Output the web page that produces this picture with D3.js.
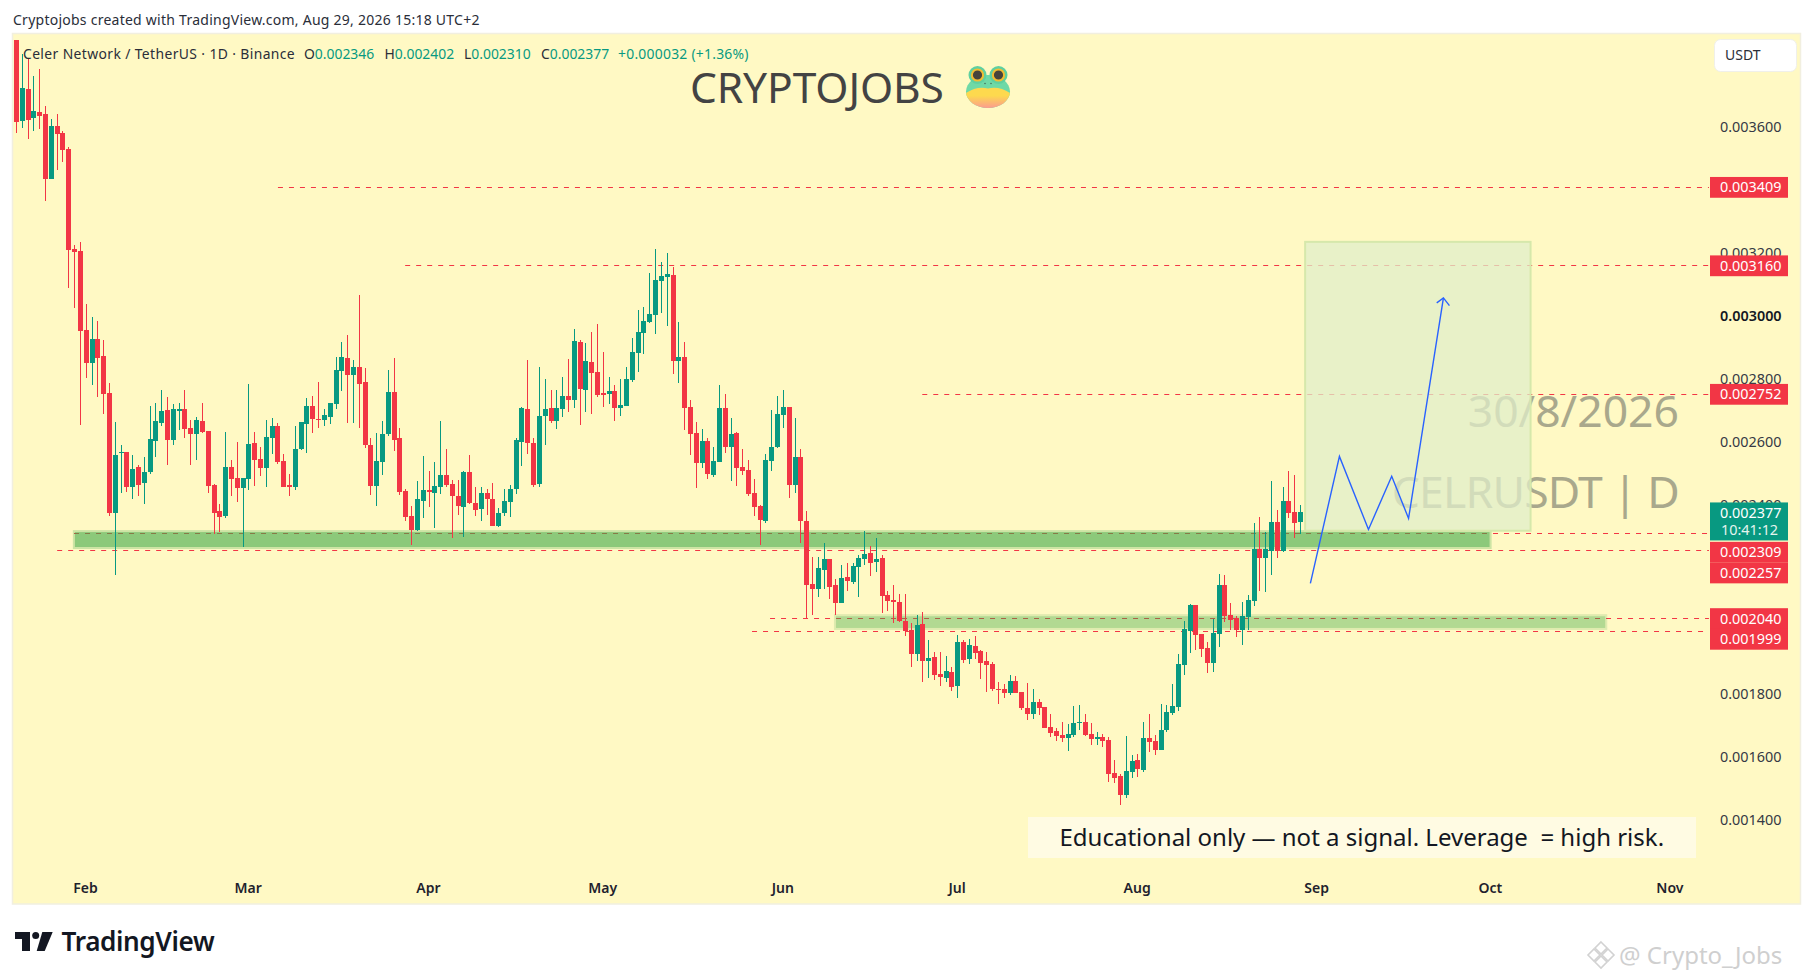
<!DOCTYPE html>
<html>
<head>
<meta charset="utf-8">
<title>CELRUSDT</title>
<script src="https://cdn.jsdelivr.net/npm/d3@7"></script>
<style>
  html, body { margin: 0; background: #fff; }
  svg { display: block; }
  text { font-family: "Noto Sans", sans-serif; white-space: pre; }
</style>
</head>
<body>
<div id="chart"></div>
<script>
// prices are in millionths of a USDT, days count from the first candle (Jan 20)
const opens = [
  3877,3621,3720,3630,3647,3641,3434,3604,3581,3531,
  3213,3207,2956,2852,2928,2874,2756,2376,2566,2569,
  2458,2521,2470,2505,2604,2661,2702,2607,2699,2705,
  2645,2626,2667,2635,2464,2381,2366,2521,2486,2454,
  2483,2597,2547,2518,2613,2651,2540,2464,2458,2578,
  2658,2715,2674,2670,2680,2721,2826,2867,2813,2839,
  2791,2591,2461,2537,2626,2759,2613,2445,2366,2321,
  2413,2448,2439,2458,2496,2467,2429,2394,2505,2407,
  2388,2439,2420,2334,2375,2410,2451,2600,2705,2597,
  2467,2683,2708,2667,2705,2747,2734,2918,2766,2855,
  2823,2756,2753,2762,2709,2715,2797,2883,2947,2982,
  3004,3112,3124,3131,2858,2870,2712,2629,2534,2604,
  2496,2537,2709,2585,2629,2521,2512,2439,2397,2350,
  2540,2585,2686,2712,2464,2553,2350,2150,2134,2194,
  2229,2147,2089,2172,2156,2204,2229,2248,2220,2232,
  2115,2099,2093,2032,2004,1927,2023,1905,1918,1864,
  1851,1870,1826,1966,1912,1953,1937,1905,1896,1818,
  1816,1804,1842,1807,1756,1737,1775,1759,1696,1683,
  1670,1661,1670,1708,1711,1673,1661,1664,1654,1550,
  1540,1480,1553,1591,1559,1661,1651,1622,1686,1740,
  1759,1892,2000,2083,1991,1946,1899,1991,2146,2051,
  2042,2004,2045,2096,2261,2232,2254,2346,2254,2413,2378,2346
]
const highs = [
  3877,3831,3819,3763,3785,3666,3625,3642,3588,3537,
  3225,3236,3039,2996,2984,2923,2787,2664,2591,2569,
  2559,2528,2553,2715,2724,2766,2743,2721,2724,2766,
  2670,2680,2724,2635,2467,2404,2632,2543,2600,2486,
  2785,2632,2585,2670,2677,2661,2562,2499,2651,2664,
  2740,2747,2791,2705,2724,2870,2918,2940,2861,3067,
  2835,2613,2629,2667,2829,2867,2645,2451,2397,2477,
  2556,2509,2537,2667,2578,2480,2480,2509,2559,2458,
  2458,2451,2470,2391,2451,2464,2613,2712,2861,2613,
  2839,2801,2766,2766,2807,2864,2959,2924,2915,2950,
  2975,2886,2807,2782,2801,2839,2931,3020,3029,3137,
  3213,3172,3201,3156,2982,2918,2734,2664,2642,2613,
  2585,2782,2753,2677,2632,2578,2543,2483,2401,2562,
  2702,2747,2766,2712,2677,2578,2381,2235,2235,2280,
  2229,2166,2210,2216,2216,2242,2318,2270,2296,2242,
  2128,2147,2118,2118,2026,2051,2061,1972,1934,1934,
  1921,1886,1988,1972,1975,1985,1940,1934,1902,1839,
  1832,1861,1858,1807,1835,1816,1785,1759,1737,1693,
  1712,1705,1762,1766,1737,1708,1680,1673,1664,1591,
  1546,1667,1607,1610,1711,1737,1670,1769,1765,1832,
  1927,2032,2086,2083,1991,1965,2038,2181,2178,2089,
  2048,2092,2115,2343,2362,2315,2477,2384,2458,2508,2496,2402
]
const lows = [
  3581,3599,3564,3589,3594,3367,3434,3464,3491,3091,
  3027,2655,2804,2781,2743,2689,2366,2178,2439,2442,
  2420,2429,2404,2499,2553,2651,2528,2591,2639,2613,
  2528,2543,2629,2439,2308,2315,2359,2429,2410,2267,
  2448,2461,2493,2458,2562,2531,2458,2429,2448,2575,
  2566,2629,2645,2651,2658,2705,2763,2661,2661,2645,
  2581,2432,2397,2496,2620,2572,2432,2350,2274,2318,
  2359,2394,2327,2435,2458,2296,2369,2299,2404,2366,
  2350,2369,2334,2331,2366,2362,2435,2524,2562,2458,
  2458,2591,2661,2642,2680,2696,2708,2654,2696,2689,
  2745,2712,2721,2667,2683,2715,2791,2823,2880,2978,
  2943,3010,2969,2817,2788,2639,2559,2455,2518,2483,
  2489,2537,2566,2477,2461,2496,2429,2366,2274,2343,
  2509,2582,2645,2423,2439,2280,2039,2051,2108,2134,
  2102,2051,2089,2128,2150,2108,2210,2175,2188,2058,
  2064,2026,2029,1985,1886,1905,1839,1851,1845,1826,
  1839,1810,1788,1899,1896,1912,1848,1807,1810,1769,
  1788,1797,1804,1750,1718,1721,1734,1693,1664,1651,
  1648,1620,1664,1686,1667,1638,1638,1632,1521,1518,
  1448,1470,1534,1537,1553,1616,1607,1622,1680,1734,
  1746,1861,1930,1940,1918,1867,1870,1950,2029,2004,
  1981,1956,2004,2080,2127,2124,2178,2232,2251,2359,2296,2310
]
const closes = [
  3618,3724,3624,3651,3637,3434,3604,3580,3529,3211,
  3205,2953,2852,2928,2868,2754,2376,2559,2569,2458,
  2515,2464,2505,2610,2667,2699,2607,2705,2705,2642,
  2626,2670,2632,2461,2375,2362,2521,2483,2454,2486,
  2594,2543,2518,2616,2651,2537,2458,2461,2578,2664,
  2715,2674,2670,2686,2724,2829,2870,2813,2839,2785,
  2591,2461,2540,2626,2759,2607,2442,2362,2321,2420,
  2448,2442,2461,2496,2464,2429,2397,2505,2407,2385,
  2439,2420,2334,2375,2413,2451,2607,2708,2597,2464,
  2683,2705,2667,2708,2747,2734,2921,2769,2858,2820,
  2750,2754,2762,2709,2718,2801,2886,2950,2985,3007,
  3115,3128,3134,2858,2870,2709,2626,2534,2604,2499,
  2540,2709,2585,2626,2518,2508,2435,2394,2353,2543,
  2585,2690,2712,2464,2553,2350,2147,2134,2200,2229,
  2140,2089,2169,2159,2207,2232,2245,2216,2229,2112,
  2096,2097,2032,2000,1927,2020,1905,1915,1861,1854,
  1873,1823,1966,1908,1956,1931,1899,1893,1816,1816,
  1804,1842,1804,1756,1737,1775,1756,1693,1677,1667,
  1661,1673,1708,1712,1670,1657,1664,1651,1546,1534,
  1480,1556,1588,1562,1661,1648,1622,1686,1743,1762,
  1896,2007,2083,1988,1943,1899,1994,2146,2048,2035,
  2004,2048,2099,2261,2232,2261,2346,2254,2413,2375,2343,2377
]

const monthDays = [11.8, 39.8, 70.8, 100.8, 131.8, 161.8, 192.8, 223.7, 253.6, 284.5]
const monthLabels = ['Feb', 'Mar', 'Apr', 'May', 'Jun', 'Jul', 'Aug', 'Sep', 'Oct', 'Nov']
const priceTicks = [3600, 3400, 3200, 3000, 2800, 2600, 2400, 2200, 2000, 1800, 1600, 1400]

const levelPrices = [3409, 3160, 2752, 2309, 2257, 2040, 1999]
const levelStartDays = [45, 66.9, 155.9, 9.9, 7, 129.7, 126.6]
const levelEndDay = 291.3

const zoneStartDays = [9.7, 140.7]
const zoneEndDays = [253.9, 273.8]
const zoneTops = [2321, 2054]
const zoneBottoms = [2261, 2004]
const zoneAlphas = [0.6, 0.4]
const zoneEdgeAlphas = [0.26, 0.17]

const targetDays = [221.8, 260.6]
const targetPrices = [3236, 2319]

const pathDays = [222.7, 227.7, 232.7, 236.7, 239.6, 245.6]
const pathPrices = [2152, 2555, 2323, 2492, 2358, 3058]

const lastPrice = 2377
const countdown = '10:41:12'

const RED = '#f23645'
const GREEN = '#089981'
const BG = '#fff9c4'
const priceText = v => (v / 1e6).toFixed(6)

const svg = d3.select('#chart').append('svg')
    .attr('width', 1814)
    .attr('height', 980)

const x = d3.scaleLinear().domain([0, 221]).range([16.5, 1300.5])
const y = d3.scaleLinear().domain([3600, 1400]).range([127.2, 820.2])

// chart panel
svg.append('rect')
    .attr('x', 12.5).attr('y', 33.5)
    .attr('width', 1788).attr('height', 870.5)
    .attr('fill', BG)
    .attr('stroke', '#f1efe0')
    .attr('stroke-width', 1.5)

// watermarks sit under the drawings
const watermark = svg.append('g')
    .attr('text-anchor', 'end')
    .attr('font-size', 44.5)
    .attr('fill', '#a9a88c')
watermark.append('text').attr('x', 1679).attr('y', 426.5).text('30/8/2026')
watermark.append('text').attr('x', 1679).attr('y', 508).attr('letter-spacing', -0.8).text('CELRUSDT | D')

// horizontal levels
svg.append('g').selectAll('line')
    .data(levelPrices)
    .join('line')
    .attr('x1', (d, i) => x(levelStartDays[i]))
    .attr('x2', x(levelEndDay))
    .attr('y1', d => Math.floor(y(d)) + 0.5)
    .attr('y2', d => Math.floor(y(d)) + 0.5)
    .attr('stroke', RED)
    .attr('stroke-dasharray', '5,6')

// support zones
zoneTops.forEach((top, i) => {
  const zx = x(zoneStartDays[i]), zw = x(zoneEndDays[i]) - zx
  const zy = y(top), zh = y(zoneBottoms[i]) - zy
  svg.append('rect')
      .attr('x', zx + 2).attr('y', zy + 2)
      .attr('width', zw - 4).attr('height', zh - 4)
      .attr('fill', 'rgb(63,169,73)')
      .attr('fill-opacity', zoneAlphas[i])
  svg.append('rect')
      .attr('x', zx + 1).attr('y', zy + 1)
      .attr('width', zw - 2).attr('height', zh - 2)
      .attr('fill', 'none')
      .attr('stroke', 'rgb(63,169,73)')
      .attr('stroke-opacity', zoneEdgeAlphas[i])
      .attr('stroke-width', 2)
})

// target box
svg.append('rect')
    .attr('x', x(targetDays[0]))
    .attr('y', y(targetPrices[0]))
    .attr('width', x(targetDays[1]) - x(targetDays[0]))
    .attr('height', y(targetPrices[1]) - y(targetPrices[0]))
    .attr('fill', 'rgb(224,238,201)')
    .attr('fill-opacity', 0.75)
    .attr('stroke', '#d6e8ab')
    .attr('stroke-width', 2)

// candles
const candles = svg.append('g').attr('shape-rendering', 'crispEdges')
    .selectAll('g')
    .data(opens)
    .join('g')
    .attr('fill', (d, i) => closes[i] >= d ? GREEN : RED)
    .attr('transform', (d, i) => `translate(${Math.round(x(i) - 0.5)},0)`)
candles.append('rect')
    .attr('x', 0)
    .attr('width', 1)
    .attr('y', (d, i) => y(highs[i]))
    .attr('height', (d, i) => y(lows[i]) - y(highs[i]))
candles.append('rect')
    .attr('x', -2)
    .attr('width', 5)
    .attr('y', (d, i) => y(Math.max(d, closes[i])))
    .attr('height', (d, i) => Math.max(1.5, Math.abs(y(d) - y(closes[i]))))

// projected path
const pathLine = d3.line()
    .x(d => x(d))
    .y((d, i) => y(pathPrices[i]))
svg.append('path')
    .datum(pathDays)
    .attr('d', pathLine)
    .attr('fill', 'none')
    .attr('stroke', '#2962ff')
    .attr('stroke-width', 1.4)
const tipX = x(pathDays[5]), tipY = y(pathPrices[5])
svg.append('path')
    .attr('d', `M${tipX - 6.7},${tipY + 5}L${tipX},${tipY}L${tipX + 6},${tipY + 7.7}`)
    .attr('fill', 'none')
    .attr('stroke', '#2962ff')
    .attr('stroke-width', 1.4)

// price axis
const yAxis = d3.axisRight(y)
    .tickValues(priceTicks)
    .tickSize(0)
    .tickPadding(0)
    .tickFormat(priceText)
const yAxisG = svg.append('g')
    .attr('transform', 'translate(1720,0)')
    .call(yAxis)
yAxisG.select('.domain').remove()
yAxisG.selectAll('text')
    .attr('font-family', '"Noto Sans", sans-serif')
    .attr('font-size', 14.4)
    .attr('fill', '#363a45')
    .filter(d => d === 3000)
    .attr('font-weight', 600)
    .attr('fill', '#131722')

// time axis
const xAxis = d3.axisBottom(x)
    .tickValues(monthDays)
    .tickSize(0)
    .tickPadding(0)
    .tickFormat((d, i) => monthLabels[i])
const xAxisG = svg.append('g')
    .attr('transform', 'translate(0,883)')
    .call(xAxis)
xAxisG.select('.domain').remove()
xAxisG.selectAll('text')
    .attr('font-family', '"Noto Sans", sans-serif')
    .attr('font-size', 14)
    .attr('font-weight', 600)
    .attr('fill', '#1e222d')

// price tags, pushed down when they would overlap
const lastTop = y(lastPrice) - 10
const tags = svg.append('g').attr('font-size', 14.4)
tags.append('rect')
    .attr('x', 1710).attr('y', lastTop)
    .attr('width', 78).attr('height', 38)
    .attr('fill', GREEN)
tags.append('text')
    .attr('x', 1720).attr('y', lastTop + 10.4).attr('dy', '.35em')
    .attr('fill', '#fff')
    .text(priceText(lastPrice))
tags.append('text')
    .attr('x', 1721).attr('y', lastTop + 27.8).attr('dy', '.35em')
    .attr('fill', '#e4f4ee')
    .text(countdown)
let tagBottom = lastTop + 38 + 1.4
levelPrices.forEach(p => {
  let top = y(p) - 10.4
  if (top > lastTop - 20 && top < tagBottom) top = tagBottom
  tagBottom = p < lastPrice ? top + 20.7 : tagBottom
  tags.append('rect')
      .attr('x', 1710).attr('y', top)
      .attr('width', 78).attr('height', 20.8)
      .attr('fill', RED)
  tags.append('text')
      .attr('x', 1720).attr('y', top + 10.4).attr('dy', '.35em')
      .attr('fill', '#fff')
      .text(priceText(p))
})

// header line and legend
svg.append('text')
    .attr('x', 13).attr('y', 24.5)
    .attr('font-size', 14)
    .attr('letter-spacing', 0.25)
    .attr('fill', '#2a2e39')
    .text('Cryptojobs created with TradingView.com, Aug 29, 2026 15:18 UTC+2')

const legend = svg.append('g').attr('font-size', 13.9)
legend.append('text').attr('x', 23).attr('y', 58.5).attr('fill', '#2a2e39')
    .attr('letter-spacing', 0.38)
    .text('Celer Network / TetherUS · 1D · Binance')
const legendKeys = ['O', 'H', 'L', 'C']
const legendVals = [opens[221], highs[221], lows[221], closes[221]]
const legendKeyX = [304, 384.5, 464, 541]
legendKeys.forEach((k, i) => {
  const t = legend.append('text').attr('x', legendKeyX[i]).attr('y', 58.5).attr('fill', '#2a2e39')
  t.append('tspan').text(k)
  t.append('tspan').attr('fill', GREEN).text(priceText(legendVals[i]))
})
legend.append('text').attr('x', 618).attr('y', 58.5).attr('fill', GREEN)
    .attr('letter-spacing', 0.25)
    .text('+0.000032 (+1.36%)')

// title with the frog
svg.append('text')
    .attr('x', 690).attr('y', 102.5)
    .attr('font-size', 42.5)
    .attr('letter-spacing', -0.1)
    .attr('fill', '#434343')
    .text('CRYPTOJOBS')

const defs = svg.append('defs')
const bellyGrad = defs.append('linearGradient')
    .attr('id', 'belly').attr('x1', 0).attr('y1', 0).attr('x2', 0).attr('y2', 1)
bellyGrad.append('stop').attr('offset', '35%').attr('stop-color', '#fdd94e')
bellyGrad.append('stop').attr('offset', '100%').attr('stop-color', '#fb8f9d')
defs.append('clipPath').attr('id', 'frogHead')
    .append('ellipse').attr('cx', 0).attr('cy', 5).attr('rx', 22).attr('ry', 16.5)

const frog = svg.append('g').attr('transform', 'translate(988,86.5)')
frog.append('ellipse').attr('cx', 0).attr('cy', 5).attr('rx', 22).attr('ry', 16.5).attr('fill', '#6fd9a6')
frog.selectAll('.bump')
    .data([-10.5, 10.5])
    .join('circle')
    .attr('cx', d => d).attr('cy', -11.5).attr('r', 9)
    .attr('fill', '#5fd0a0')
frog.append('path')
    .attr('d', 'M-24,8Q-12,-1 0,2Q12,-1 24,8L24,24L-24,24Z')
    .attr('fill', 'url(#belly)')
    .attr('clip-path', 'url(#frogHead)')
frog.selectAll('.eye')
    .data([-10.5, 10.5])
    .join('circle')
    .attr('cx', d => d).attr('cy', -11.5).attr('r', 5.6)
    .attr('fill', '#47443c')
    .attr('stroke', '#f2bd33')
    .attr('stroke-width', 2)
frog.selectAll('.nostril')
    .data([-3, 3])
    .join('circle')
    .attr('cx', d => d).attr('cy', -3).attr('r', 0.7)
    .attr('fill', '#3c5a4c')

// currency button
svg.append('rect')
    .attr('x', 1714.5).attr('y', 39.5)
    .attr('width', 82).attr('height', 32).attr('rx', 6)
    .attr('fill', '#fff')
    .attr('stroke', '#f0f0ea')
svg.append('text')
    .attr('x', 1725).attr('y', 60)
    .attr('font-size', 14)
    .attr('fill', '#2a2e39')
    .text('USDT')

// disclaimer
svg.append('rect')
    .attr('x', 1028).attr('y', 817)
    .attr('width', 668).attr('height', 41)
    .attr('fill', '#fffbe3')
svg.append('text')
    .attr('x', 1059.5).attr('y', 846)
    .attr('font-size', 24)
    .attr('fill', '#131722')
    .text('Educational only — not a signal. Leverage  = high risk.')

// TradingView logo
const logo = svg.append('g').attr('fill', '#131722')
logo.append('path').attr('d', 'M15,932H30V951H22V939H15Z')
logo.append('circle').attr('cx', 35.7).attr('cy', 935.5).attr('r', 3.5)
logo.append('path').attr('d', 'M42.3,932H52.7L44.7,951H36.7Z')
logo.append('text')
    .attr('x', 61.5).attr('y', 951)
    .attr('font-family', 'Inter, sans-serif')
    .attr('font-size', 26.2)
    .attr('font-weight', 600)
    .attr('letter-spacing', -0.4)
    .text('TradingView')

// footer stamp
const stamp = svg.append('g').attr('fill', 'none').attr('stroke', '#d2d2d2').attr('stroke-width', 1.6)
stamp.append('path').attr('d', 'M1601,942L1607,948L1601,954L1595,948Z')
stamp.append('path').attr('d', 'M1594,949L1600,955L1594,961L1588,955Z')
stamp.append('path').attr('d', 'M1608,949L1614,955L1608,961L1602,955Z')
stamp.append('path').attr('d', 'M1601,956L1607,962L1601,968L1595,962Z')
svg.append('text')
    .attr('x', 1619).attr('y', 964)
    .attr('font-size', 24)
    .attr('fill', '#cfcfcf')
    .text('@ Crypto_Jobs')
</script>
</body>
</html>
